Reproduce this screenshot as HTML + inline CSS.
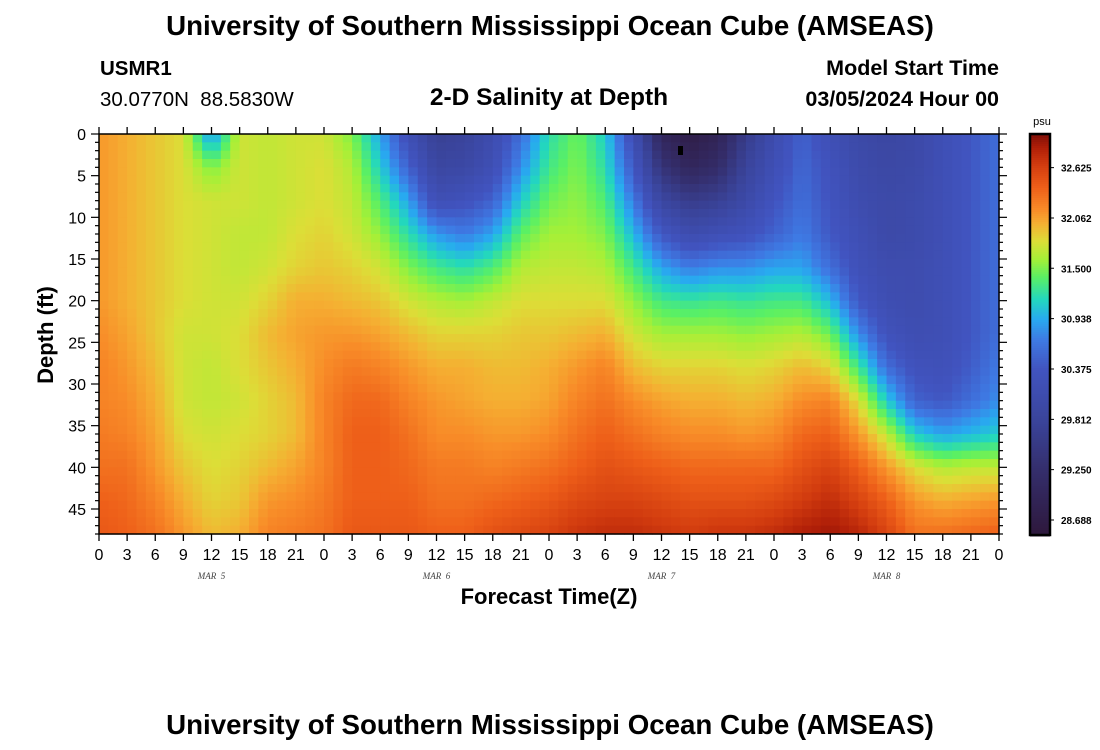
<!DOCTYPE html>
<html><head><meta charset="utf-8">
<style>
body{margin:0;background:#fff;}
svg{display:block;font-family:"Liberation Sans",Arial,sans-serif;}
</style></head>
<body>
<svg id="chart" width="1100" height="750" viewBox="0 0 1100 750">
<text x="550" y="35" text-anchor="middle" font-size="27.7" font-weight="bold">University of Southern Mississippi Ocean Cube (AMSEAS)</text>
<text x="100" y="75" font-size="20.5" font-weight="bold">USMR1</text>
<text x="100" y="106" font-size="20.5" style="white-space:pre" xml:space="preserve">30.0770N  88.5830W</text>
<text x="549" y="105" text-anchor="middle" font-size="24.5" font-weight="bold">2-D Salinity at Depth</text>
<text x="999" y="75" text-anchor="end" font-size="21.5" font-weight="bold">Model Start Time</text>
<text x="999" y="106" text-anchor="end" font-size="21.5" font-weight="bold">03/05/2024 Hour 00</text>
<g id="heat"></g>
<rect x="678" y="146" width="5" height="9" fill="#000"/>
<rect x="99" y="134" width="900" height="400" fill="none" stroke="#000" stroke-width="1.5"/>
<g id="axes"></g>
<text transform="translate(53,335) rotate(-90)" text-anchor="middle" font-size="22" font-weight="bold">Depth (ft)</text>
<text x="549" y="604" text-anchor="middle" font-size="22" font-weight="bold">Forecast Time(Z)</text>
<g id="cbar"></g>
<text x="1042" y="125" text-anchor="middle" font-size="11">psu</text>
<text x="550" y="734" text-anchor="middle" font-size="27.7" font-weight="bold">University of Southern Mississippi Ocean Cube (AMSEAS)</text>
</svg>
<script>
const times=[0,3,6,9,12,15,18,21,24,27,30,33,36,39,42,45,48,51,54,57,60,63,66,69,72,75,78,81,84,87,90,93,96];
const depths=[0,4,8,12,16,20,24,28,32,36,40,44,48];
const salinity=[
[32.1,32.1,32.1,32.1,32.1,32.1,32.15,32.2,32.2,32.25,32.3,32.4,32.45],
[32.0,32.0,32.0,32.0,32.0,32.0,32.05,32.1,32.15,32.2,32.3,32.35,32.4],
[31.9,31.9,31.9,31.9,31.9,31.9,31.9,31.95,32.0,32.05,32.1,32.2,32.3],
[31.8,31.8,31.8,31.8,31.8,31.8,31.75,31.75,31.75,31.8,31.9,32.0,32.1],
[30.8,31.5,31.75,31.75,31.75,31.75,31.75,31.7,31.7,31.75,31.8,31.85,31.95],
[31.75,31.75,31.75,31.7,31.7,31.75,31.8,31.8,31.75,31.8,31.85,31.9,32.0],
[31.7,31.7,31.7,31.7,31.75,31.85,31.95,31.9,31.85,31.85,31.95,32.1,32.2],
[31.75,31.75,31.75,31.8,31.85,32.0,32.05,32.0,31.95,31.95,32.05,32.15,32.25],
[31.75,31.8,31.8,31.85,31.9,32.0,32.1,32.15,32.2,32.2,32.2,32.25,32.3],
[31.5,31.65,31.7,31.75,31.85,31.95,32.1,32.25,32.35,32.4,32.4,32.4,32.45],
[30.9,31.1,31.35,31.55,31.75,31.9,32.05,32.2,32.35,32.4,32.4,32.4,32.45],
[30.2,30.5,30.9,31.2,31.5,31.75,31.95,32.1,32.2,32.3,32.35,32.4,32.45],
[29.7,29.9,30.2,30.85,31.3,31.65,31.85,32.0,32.1,32.15,32.25,32.3,32.4],
[29.8,29.95,30.3,30.7,31.2,31.6,31.85,32.0,32.05,32.15,32.25,32.3,32.4],
[30.1,30.2,30.5,30.9,31.35,31.7,31.85,31.95,32.0,32.1,32.2,32.35,32.5],
[30.6,30.8,31.1,31.4,31.65,31.8,31.9,31.95,32.0,32.1,32.25,32.4,32.55],
[31.2,31.3,31.45,31.6,31.7,31.8,31.9,32.0,32.05,32.15,32.3,32.45,32.6],
[31.45,31.5,31.55,31.6,31.7,31.8,31.95,32.1,32.2,32.3,32.4,32.55,32.7],
[31.1,31.2,31.35,31.5,31.65,31.8,32.0,32.2,32.3,32.4,32.5,32.6,32.75],
[30.2,30.4,30.7,31.0,31.3,31.55,31.75,31.95,32.15,32.3,32.45,32.6,32.75],
[29.0,29.4,29.9,30.4,30.9,31.3,31.6,31.85,32.05,32.2,32.4,32.55,32.7],
[28.7,29.0,29.6,30.1,30.7,31.25,31.6,31.85,32.0,32.15,32.35,32.5,32.65],
[28.9,29.2,29.7,30.2,30.8,31.3,31.6,31.85,32.0,32.15,32.35,32.5,32.7],
[29.6,29.8,30.0,30.3,30.8,31.25,31.55,31.8,31.95,32.1,32.35,32.5,32.7],
[30.1,30.2,30.35,30.5,30.9,31.3,31.6,31.85,32.0,32.15,32.35,32.55,32.75],
[30.5,30.55,30.6,30.7,30.9,31.3,31.65,31.95,32.15,32.35,32.5,32.65,32.85],
[30.2,30.3,30.35,30.4,30.6,31.0,31.45,31.85,32.2,32.4,32.6,32.75,32.9],
[30.0,30.05,30.1,30.2,30.25,30.4,30.8,31.3,31.8,32.1,32.4,32.6,32.8],
[29.9,29.95,30.0,30.0,30.1,30.15,30.3,30.6,31.1,31.7,32.1,32.4,32.6],
[30.0,30.0,30.05,30.05,30.1,30.1,30.15,30.3,30.5,31.1,31.8,32.1,32.3],
[30.2,30.2,30.2,30.2,30.2,30.2,30.2,30.25,30.4,30.9,31.65,32.0,32.3],
[30.4,30.4,30.4,30.4,30.4,30.4,30.4,30.45,30.6,31.0,31.7,32.05,32.35],
[30.6,30.6,30.6,30.6,30.6,30.6,30.6,30.7,30.8,31.1,31.7,32.1,32.4]
];
const xTickLabels=["0","3","6","9","12","15","18","21","0","3","6","9","12","15","18","21","0","3","6","9","12","15","18","21","0","3","6","9","12","15","18","21","0"];
const dayLabels=["MAR  5","MAR  6","MAR  7","MAR  8"];
const dayHours=[12,36,60,84];
const yTicks=[0,5,10,15,20,25,30,35,40,45];
const cbarTicks=[32.625,32.062,31.5,30.938,30.375,29.812,29.25,28.688];

const X0=99,X1=999,Y0=134,Y1=534,TMAX=96,DMAX=48;
const xs=t=>X0+(t/TMAX)*(X1-X0);
const ys=d=>Y0+(d/DMAX)*(Y1-Y0);
const VMIN=28.52,VMAX=33.0;
const CB_Y0=134,CB_Y1=535;
const cbY=v=>CB_Y1-(v-VMIN)/(VMAX-VMIN)*(CB_Y1-CB_Y0);
const stops=[[28.52,[46,24,60]],[29.25,[52,46,108]],[29.8,[58,68,155]],[30.375,[65,84,192]],[30.7,[62,122,228]],[30.93,[40,170,240]],[31.15,[35,215,190]],[31.4,[90,240,100]],[31.6,[165,240,55]],[31.8,[220,222,55]],[32.0,[245,175,50]],[32.15,[248,140,40]],[32.4,[238,95,25]],[32.65,[210,60,15]],[32.85,[175,30,8]],[33.0,[125,15,8]]];
function color(v){
  if(v<=stops[0][0])return 'rgb('+stops[0][1]+')';
  for(let i=1;i<stops.length;i++){
    if(v<=stops[i][0]){const a=stops[i-1],b=stops[i],f=(v-a[0])/(b[0]-a[0]);
      const c=a[1].map((x,k)=>Math.round(x+(b[1][k]-x)*f));return 'rgb('+c+')';}
  }
  return 'rgb('+stops[stops.length-1][1]+')';
}
function interp(arr,val){let i=0;while(i<arr.length-2&&val>arr[i+1])i++;return [i,(val-arr[i])/(arr[i+1]-arr[i])];}
function sample(t,d){
  const [i,ft]=interp(times,t),[j,fd]=interp(depths,d);
  const a=salinity[i][j],b=salinity[i+1][j],c=salinity[i][j+1],e=salinity[i+1][j+1];
  return (a*(1-ft)+b*ft)*(1-fd)+(c*(1-ft)+e*ft)*fd;
}
const NS='http://www.w3.org/2000/svg';
const heat=document.getElementById('heat');
for(let t=0;t<TMAX;t++){for(let d=0;d<DMAX;d++){
  const r=document.createElementNS(NS,'rect');
  const x=xs(t),y=ys(d);
  r.setAttribute('x',x.toFixed(2));r.setAttribute('y',y.toFixed(2));
  r.setAttribute('width',(xs(t+1)-x+0.6).toFixed(2));r.setAttribute('height',(ys(d+1)-y+0.6).toFixed(2));
  r.setAttribute('fill',color(sample(t+0.5,d+0.5)));
  
  
  heat.appendChild(r);
}}
const axes=document.getElementById('axes');
function line(x1,y1,x2,y2,w,nm){const l=document.createElementNS(NS,'line');
  l.setAttribute('x1',x1);l.setAttribute('y1',y1);l.setAttribute('x2',x2);l.setAttribute('y2',y2);
  l.setAttribute('stroke','#000');l.setAttribute('stroke-width',w||1.3);
  
  
  axes.appendChild(l);}
function text(x,y,s,size,anchor,nm,extra){const e=document.createElementNS(NS,'text');
  e.setAttribute('x',x);e.setAttribute('y',y);e.setAttribute('font-size',size);e.setAttribute('text-anchor',anchor);
  if(extra)for(const k in extra)e.setAttribute(k,extra[k]);
  e.textContent=s;
  
  
  axes.appendChild(e);return e;}
xTickLabels.forEach((s,i)=>{const x=xs(i*3);
  line(x,Y1,x,Y1+7,1.3,'x-tick');line(x,Y0,x,Y0-7,1.3,'x-tick-top');
  text(x,560,s,16,'middle','x-tick-label');});
dayLabels.forEach((s,i)=>text(xs(dayHours[i]),579,s,9,'middle','day-label',{'font-family':'Liberation Serif,serif','font-style':'italic','fill':'#444','style':'white-space:pre'}));
for(let d=0;d<=DMAX;d++){const y=ys(d);const maj=d%5===0;
  line(X0,y,X0-(maj?8:4),y,1.2,'y-tick');line(X1,y,X1+(maj?8:4),y,1.2,'y-tick-right');}
yTicks.forEach(d=>text(86,ys(d)+6,String(d),16,'end','y-tick-label'));
const cb=document.getElementById('cbar');
for(let p=CB_Y0;p<CB_Y1;p+=2){const v=VMIN+(CB_Y1-p-1)/(CB_Y1-CB_Y0)*(VMAX-VMIN);
  const r=document.createElementNS(NS,'rect');r.setAttribute('x',1030);r.setAttribute('y',p);r.setAttribute('width',20);r.setAttribute('height',2.5);r.setAttribute('fill',color(v));
  
  
  cb.appendChild(r);}
const fr=document.createElementNS(NS,'rect');fr.setAttribute('x',1030);fr.setAttribute('y',CB_Y0);fr.setAttribute('width',20);fr.setAttribute('height',CB_Y1-CB_Y0);fr.setAttribute('fill','none');fr.setAttribute('stroke','#000');fr.setAttribute('stroke-width',2.5);


cb.appendChild(fr);
cbarTicks.forEach(v=>{const y=cbY(v);line(1030,y,1054,y,1,'colorbar-tick');
  text(1061,y+4,v.toFixed(3),10,'start','colorbar-label',{'font-weight':'bold'});});
</script>
</body></html>
